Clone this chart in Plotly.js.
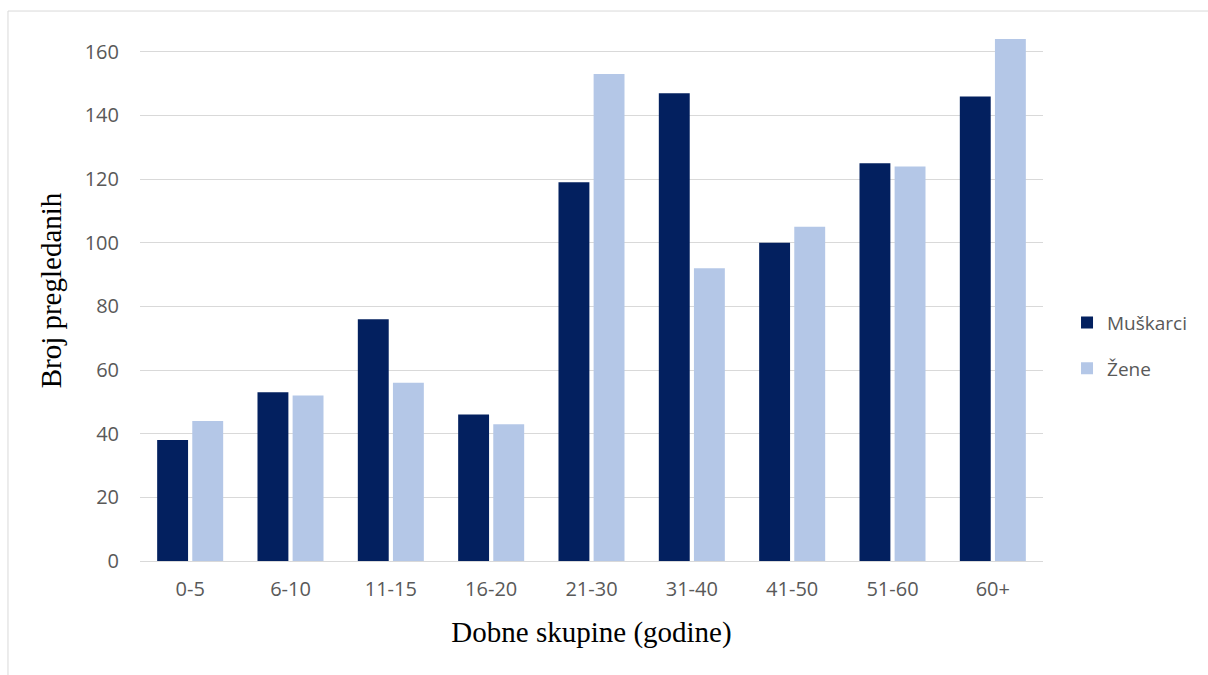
<!DOCTYPE html>
<html>
<head>
<meta charset="utf-8">
<script src="https://cdn.plot.ly/plotly-3.0.1.min.js"></script>
<style>html,body{margin:0;padding:0;background:#fff;}#chart{width:1208px;height:675px;}</style>
</head>
<body>
<div id="chart"></div>
<script>
const categories = ["0-5","6-10","11-15","16-20","21-30","31-40","41-50","51-60","60+"];
const muskarci = [38,53,76,46,119,147,100,125,146];
const zene = [44,52,56,43,153,92,105,124,164];
const seriesNames = ["Muškarci","Žene"];
const yTicks = [0,20,40,60,80,100,120,140,160];

const tickFont = {family:"Open Sans, Liberation Sans, sans-serif", size:20, color:"#595959"};
const titleFont = {family:"Liberation Serif, Times New Roman, serif", size:29, color:"#000"};
const traces = [
  {type:"bar", name:seriesNames[0], legendgroup:"m", x:categories, y:muskarci, marker:{color:"#03205f"}},
  {type:"bar", name:seriesNames[1], legendgroup:"z", x:categories, y:zene, marker:{color:"#b4c7e7"}}
];
const layout = {
  width:1208, height:675,
  margin:{l:140, r:165, t:20, b:114},
  paper_bgcolor:"#ffffff", plot_bgcolor:"#ffffff",
  barmode:"group", bargap:0.3, bargroupgap:0.12,
  showlegend:true,
  legend:{x:1.0266, y:0.398, xanchor:"left", yanchor:"middle", traceorder:"grouped", tracegroupgap:18,
          font:{family:"Open Sans, Liberation Sans, sans-serif", size:19, color:"#595959"}},
  xaxis:{
    type:"category", tickfont:tickFont, showgrid:false,
    showline:true, linecolor:"#d9d9d9", linewidth:1,
    ticks:"outside", ticklen:10, tickcolor:"rgba(0,0,0,0)",
    title:{text:"Dobne skupine (godine)", font:titleFont, standoff:20}
  },
  yaxis:{
    range:[0,170], tickvals:yTicks, ticktext:yTicks.map(String), tickfont:tickFont,
    showgrid:true, gridcolor:"#d9d9d9", gridwidth:1, zeroline:false,
    ticks:"outside", ticklen:16, tickcolor:"rgba(0,0,0,0)",
    title:{text:"Broj pregledanih", font:titleFont, standoff:14}
  },
  shapes:[
    {type:"rect", xref:"paper", yref:"paper", x0:-0.1462, x1:1.3, y0:-0.3, y1:1.0166, line:{color:"#d9d9d9", width:1}, fillcolor:"rgba(0,0,0,0)", layer:"below"}
  ]
};
Plotly.newPlot("chart", traces, layout, {displayModeBar:false, staticPlot:true});
</script>
</body>
</html>
